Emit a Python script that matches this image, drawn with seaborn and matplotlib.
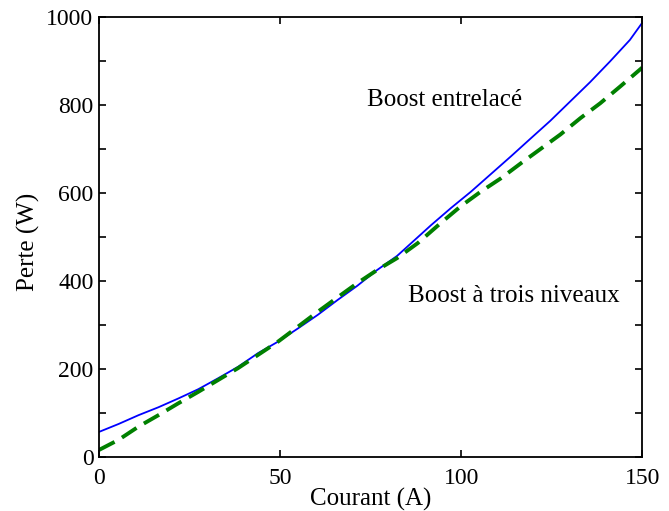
import pandas as pd
import numpy as np
import seaborn as sns
import matplotlib
matplotlib.use('Agg')
import matplotlib.pyplot as plt
from matplotlib.ticker import MultipleLocator

# courbes
courant_entrelace = [0, 5.4, 10.9, 16.4, 21.9, 27.4, 32.9, 38.4, 43.9, 49.4, 54.9,
                     60.4, 65.9, 71.3, 76.8, 82.3, 86.2, 91.7, 97.2, 102.7, 108.2,
                     113.7, 119.2, 124.6, 130.1, 135.6, 141.1, 146.6, 150]
perte_entrelace = [57, 75, 95, 113, 133, 154, 179, 205, 236, 262, 292,
                   323, 357, 389, 425, 457, 486, 527, 566, 603, 643,
                   683, 724, 764, 808, 852, 899, 948, 987]

courant_trois = [0, 5.4, 10.9, 16.4, 21.9, 27.4, 32.9, 38.4, 43.9, 49.4, 54.9,
                 60.4, 65.9, 71.3, 76.8, 82.3, 88, 94.4, 99.9, 105.4, 110.9,
                 116.4, 121.9, 127.4, 132.9, 138.4, 143.9, 150]
perte_trois = [16, 39, 69, 95, 122, 148, 175, 202, 232, 262, 296,
               330, 363, 395, 425, 452, 486, 532, 570, 603, 633,
               667, 700, 733, 770, 804, 842, 885]

x_ticks = [0, 50, 100, 150]
y_ticks = [0, 200, 400, 600, 800, 1000]

df1 = pd.DataFrame({'Courant': courant_entrelace, 'Perte': perte_entrelace})
df2 = pd.DataFrame({'Courant': courant_trois, 'Perte': perte_trois})

sns.set_style('ticks')
plt.rcParams['font.family'] = ['Liberation Serif', 'DejaVu Serif']
plt.rcParams['text.color'] = 'black'
plt.rcParams['axes.labelcolor'] = 'black'

fig = plt.figure(figsize=(6.69, 5.11), dpi=100)
ax = fig.add_axes([0.148, 0.1057, 0.812, 0.861])

sns.lineplot(x='Courant', y='Perte', data=df1, ax=ax, color='#0000ff', lw=1.3)
sns.lineplot(x='Courant', y='Perte', data=df2, ax=ax, color='#008000', lw=2.8,
             linestyle=(0, (4.5, 2.2)))

ax.set_xlim(0, 150)
ax.set_ylim(0, 1000)
ax.set_xticks(x_ticks)
ax.set_yticks(y_ticks)
ax.yaxis.set_minor_locator(MultipleLocator(100))
ax.tick_params(which='both', direction='in', length=5, width=1.2,
               top=True, right=True, labelsize=17, colors='black')
ax.tick_params(axis='x', pad=8)
ax.tick_params(axis='y', pad=4)
for s in ax.spines.values():
    s.set_linewidth(1.3)
    s.set_color('black')
    s.set_visible(True)

ax.set_xlabel('Courant (A)', fontsize=18, labelpad=-1)
ax.set_ylabel('Perte (W)', fontsize=18)
ax.yaxis.set_label_coords(-0.108, 0.49)

ax.text(74, 811, 'Boost entrelacé', fontsize=18, va='center', ha='left')
ax.text(85.4, 366, 'Boost à trois niveaux', fontsize=18, va='center', ha='left')

plt.savefig('out.png', dpi=100)
